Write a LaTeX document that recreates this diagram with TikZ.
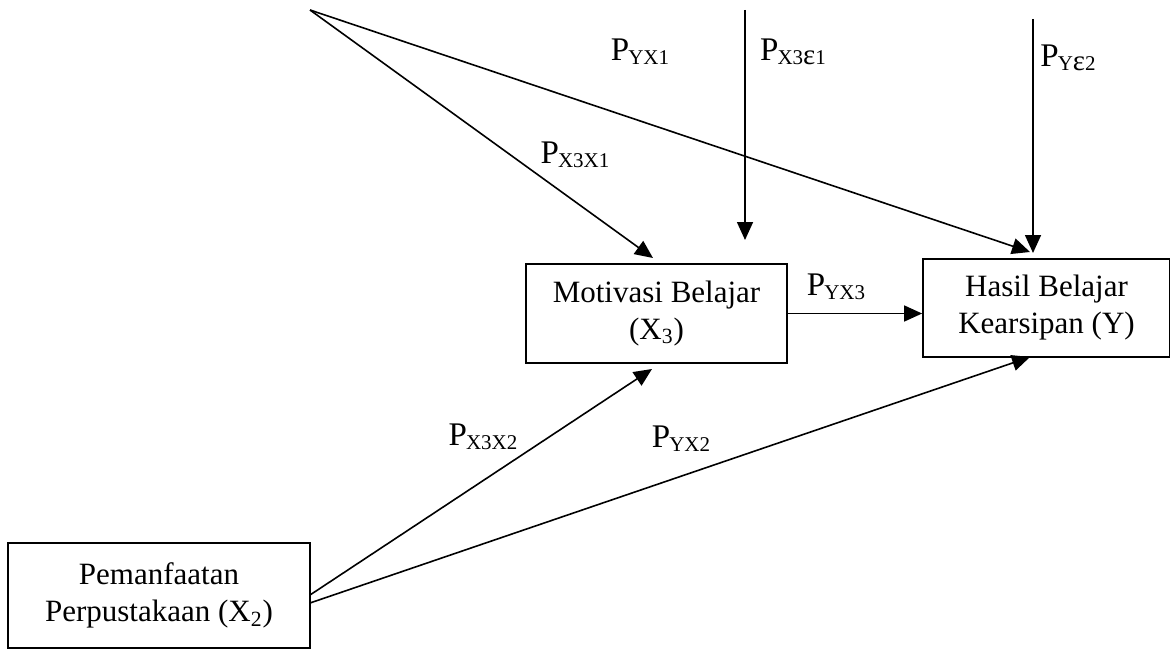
\documentclass[tikz,border=0pt]{standalone}
\usepackage{fontspec}
\setmainfont{Liberation Serif}
\usetikzlibrary{arrows.meta}
\newcommand{\pl}[1]{P\kern-0.5pt\raisebox{-0.12em}{\fontsize{10.5}{11}\selectfont #1}}
\newcommand{\eps}{{\fontsize{14.5}{14}\selectfont ε}}
\begin{document}
\begin{tikzpicture}[x=0.5pt,y=-0.5pt,
  box/.style={draw,line width=0.9pt,align=center,inner sep=0pt,font=\fontsize{15.5}{18.5}\selectfont},
  lbl/.style={inner sep=0pt,font=\fontsize{16.5}{18}\selectfont},
  conn/.style={line width=0.8pt,-{Triangle[length=9pt,width=8pt]}}]
\useasboundingbox (0,0) rectangle (1170,652);
\node[box,minimum width=130.5pt,minimum height=49.5pt] (mot) at (656.5,313.5) {Motivasi Belajar\\(X\textsubscript{3})};
\node[box,minimum width=123.5pt,minimum height=49pt] (has) at (1046.5,308) {Hasil Belajar\\Kearsipan (Y)};
\node[box,minimum width=151pt,minimum height=52.5pt] (pem) at (159,595.5) {Pemanfaatan\\Perpustakaan (X\textsubscript{2})};
\coordinate (o) at (310,10);
\coordinate (e1) at (745,10);
\coordinate (e1t) at (745,240);
\coordinate (e2) at (1033,19);
\coordinate (e2t) at (1033,253);
\coordinate (tm) at (653,258);
\coordinate (th) at (1030,252);
\coordinate (pa) at (310,595);
\coordinate (pb) at (310,603);
\coordinate (bm) at (652,369);
\coordinate (bh) at (1030,357);
\draw[conn] (o) -- (tm);
\draw[conn] (o) -- (th);
\draw[conn] (e1) -- (e1t);
\draw[conn] (e2) -- (e2t);
\draw[conn] (mot.east) -- (mot.east -| has.west);
\draw[conn] (pa) -- (bm);
\draw[conn] (pb) -- (bh);
\node[lbl] (l1) at (640,52) {\pl{YX1}};
\node[lbl] (l2) at (793,52) {\pl{X3\eps1}};
\node[lbl] (l3) at (1068,58) {\pl{Y\eps2}};
\node[lbl] (l4) at (575,155) {\pl{X3X1}};
\node[lbl] (l5) at (836,287) {\pl{YX3}};
\node[lbl] (l6) at (483,437) {\pl{X3X2}};
\node[lbl] (l7) at (681,439) {\pl{YX2}};
\end{tikzpicture}
\end{document}
